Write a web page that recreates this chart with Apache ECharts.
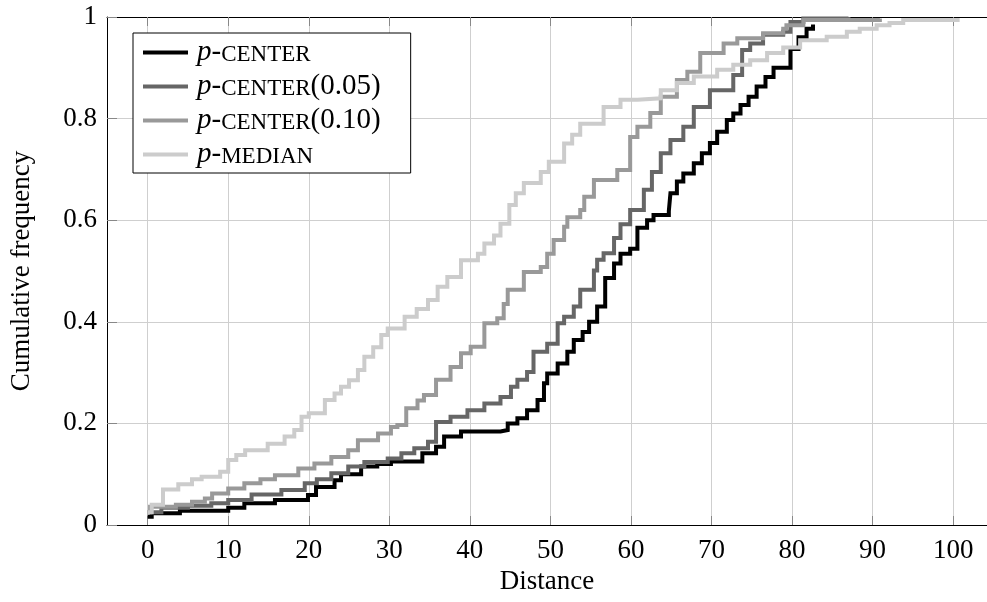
<!DOCTYPE html>
<html>
<head>
<meta charset="utf-8">
<script src="https://cdn.jsdelivr.net/npm/echarts@6/dist/echarts.min.js"></script>
<style>
  html, body { margin: 0; padding: 0; background: #fff; }
  #main { width: 987px; height: 602px; }
</style>
</head>
<body>
<div id="main"></div>
<script>
// each point is [distance, cumulative frequency after the jump]
var pCenter = [
  [0, 0.016], [0.5, 0.023], [4.0, 0.028], [10, 0.034], [12, 0.043], [15.8, 0.049],
  [19.9, 0.059], [20.9, 0.075], [23.2, 0.088], [24, 0.1], [26.5, 0.115], [28.5, 0.12],
  [30.2, 0.125], [34.1, 0.141], [35.8, 0.154], [36.8, 0.174], [38.9, 0.184], [43.8, 0.187],
  [44.7, 0.2], [45.9, 0.21], [47.1, 0.226], [48.4, 0.246], [49.2, 0.279], [49.6, 0.298],
  [50.9, 0.318], [52.1, 0.341], [52.9, 0.364], [54, 0.38], [54.8, 0.4], [55.8, 0.43],
  [56.8, 0.486], [57.9, 0.515], [58.7, 0.534], [59.9, 0.544], [60.8, 0.585], [62, 0.6],
  [62.8, 0.61], [64.7, 0.618], [64.9, 0.653], [65.7, 0.676], [66.5, 0.692], [67.8, 0.712],
  [68.8, 0.732], [69.8, 0.752], [70.7, 0.774], [71.9, 0.797], [72.7, 0.81], [73.6, 0.827],
  [74.6, 0.843], [75.6, 0.863], [76.7, 0.882], [77.7, 0.9], [79.8, 0.937], [80.8, 0.96],
  [81.8, 0.977], [82.6, 0.985]
];
var pCenter005 = [
  [0, 0.025], [1.7, 0.034], [5, 0.038], [7.9, 0.043], [10, 0.049], [12.9, 0.06],
  [16.6, 0.069], [19.5, 0.082], [21, 0.09], [22.8, 0.102], [24.9, 0.115], [26.9, 0.124],
  [29.8, 0.131], [31.5, 0.141], [33.1, 0.151], [34.8, 0.164], [35.8, 0.203], [37.6, 0.213],
  [39.7, 0.226], [41.8, 0.239], [43.8, 0.252], [45.1, 0.272], [45.9, 0.286], [47.1, 0.301],
  [47.9, 0.341], [49.6, 0.357], [50.9, 0.397], [51.7, 0.41], [52.9, 0.43], [53.7, 0.463],
  [55.4, 0.501], [55.8, 0.522], [56.6, 0.535], [57.9, 0.565], [58.7, 0.592], [59.9, 0.62],
  [61.6, 0.66], [62.6, 0.695], [63.7, 0.732], [64.9, 0.758], [66.5, 0.784], [67.8, 0.823],
  [69.8, 0.856], [72.7, 0.886], [73.8, 0.935], [74.8, 0.948], [76.4, 0.965], [78.9, 0.971],
  [79.8, 0.99], [81.4, 0.997], [87, 1]
];
var pCenter010 = [
  [0, 0.025], [0.3, 0.036], [3.5, 0.04], [5.5, 0.046], [7.1, 0.052], [8, 0.062],
  [10, 0.072], [12, 0.082], [14, 0.09], [15.8, 0.098], [18.7, 0.111], [20.7, 0.121],
  [22.8, 0.134], [24.9, 0.147], [26.1, 0.167], [28.6, 0.18], [30.2, 0.193], [31, 0.197],
  [32.1, 0.23], [33.5, 0.245], [34.3, 0.256], [35.8, 0.286], [37.6, 0.311], [38.9, 0.338],
  [40.1, 0.351], [41.8, 0.397], [43.4, 0.407], [44.2, 0.435], [44.7, 0.463], [46.7, 0.498],
  [48.8, 0.508], [49.6, 0.534], [50.4, 0.561], [51.7, 0.587], [52.1, 0.606], [53.7, 0.62],
  [54.2, 0.646], [55.4, 0.679], [58.3, 0.699], [59.9, 0.764], [60.8, 0.784], [62.4, 0.811],
  [63.7, 0.843], [65.7, 0.876], [67, 0.892], [68.6, 0.929], [71.5, 0.948], [73.2, 0.958],
  [76.4, 0.968], [78.9, 0.977], [79.3, 0.984], [81.4, 0.994], [90.9, 0.997]
];
var pMedian = [
  [0, 0.025], [0.5, 0.04], [1.9, 0.07], [3.8, 0.08], [5.5, 0.09], [6.7, 0.095],
  [9.0, 0.105], [10, 0.128], [11, 0.138], [12.1, 0.147], [14.9, 0.16], [17.0, 0.174],
  [18.2, 0.187], [19.1, 0.213], [20.0, 0.22], [22.0, 0.246], [23.2, 0.259], [24.0, 0.272],
  [25.0, 0.285], [26.1, 0.305], [26.9, 0.331], [28.0, 0.35], [29.0, 0.374], [29.8, 0.387],
  [31.9, 0.41], [33.4, 0.425], [34.8, 0.443], [36.0, 0.469], [37.2, 0.488], [38.9, 0.521],
  [41.0, 0.534], [41.8, 0.554], [43.0, 0.57], [43.8, 0.593], [44.9, 0.63], [45.7, 0.653],
  [46.7, 0.673], [48.8, 0.695], [49.8, 0.715], [51.7, 0.751], [52.7, 0.768], [53.7, 0.79],
  [56.6, 0.823], [58.7, 0.837], [60.8, 0.84], [63.7, 0.856], [65.7, 0.87], [67.8, 0.883],
  [70.7, 0.896], [72.7, 0.906], [74.8, 0.915], [76.9, 0.929], [78.9, 0.94], [81.0, 0.954],
  [84.3, 0.961], [86.8, 0.971], [88.4, 0.977], [90.5, 0.984], [92.1, 0.988], [93.8, 0.994],
  [100.8, 0.995]
];

var seriesNames = ['p-CENTER', 'p-CENTER(0.05)', 'p-CENTER(0.10)', 'p-MEDIAN'];
var seriesData = [pCenter, pCenter005, pCenter010, pMedian];
var seriesColors = ['#000000', '#666666', '#999999', '#cccccc'];
var xTicks = [0, 10, 20, 30, 40, 50, 60, 70, 80, 90, 100];

var FONT = '"Liberation Serif", "DejaVu Serif", serif';

var chart = echarts.init(document.getElementById('main'), null, { renderer: 'canvas' });

var option = {
  animation: false,
  backgroundColor: '#fff',
  grid: {
    left: 106, top: 17, bottom: 77, right: 0,
    show: false
  },
  legend: {
    orient: 'vertical',
    left: 133, top: 33,
    padding: [5, 30, 4, 10],
    itemGap: 5,
    itemWidth: 45, itemHeight: 4,
    icon: 'rect',
    backgroundColor: '#fff',
    borderColor: '#000', borderWidth: 1, borderRadius: 0,
    data: seriesNames,
    formatter: function (name) {
      var m = name.match(/^p-([A-Z]+)(.*)$/);
      var s = '{i|p}{n|-}{s|' + m[1] + '}';
      if (m[2]) s += '{n|' + m[2] + '}';
      return s;
    },
    textStyle: {
      fontFamily: FONT, color: '#000', fontSize: 29, padding: [0, 0, 0, 4],
      rich: {
        i: { fontFamily: FONT, fontStyle: 'italic', fontSize: 29, color: '#000', verticalAlign: 'bottom' },
        n: { fontFamily: FONT, fontSize: 29, color: '#000', verticalAlign: 'bottom' },
        s: { fontFamily: FONT, fontSize: 23, color: '#000', verticalAlign: 'bottom', padding: [0, 0, 1, 0] }
      }
    }
  },
  xAxis: [{
    type: 'value',
    min: -5.05, max: 104.2,
    name: 'Distance',
    nameLocation: 'middle',
    nameGap: 42,
    nameTextStyle: { fontFamily: FONT, fontSize: 27, color: '#000' },
    axisLine: { show: true, onZero: false, lineStyle: { color: '#000', width: 1 } },
    axisTick: { show: true, inside: true, length: 9, customValues: xTicks, lineStyle: { color: '#888' } },
    axisLabel: { customValues: xTicks, margin: 12, fontFamily: FONT, fontSize: 27, color: '#000' },
    splitLine: { show: true, lineStyle: { color: '#cfcfcf', width: 1 } }
  }, {
    type: 'value',
    position: 'top',
    min: -5.05, max: 104.2,
    axisLine: { show: true, onZero: false, lineStyle: { color: '#000', width: 1 } },
    axisTick: { show: true, inside: true, length: 9, customValues: xTicks, lineStyle: { color: '#888' } },
    axisLabel: { show: false },
    splitLine: { show: false }
  }],
  yAxis: {
    type: 'value',
    min: 0, max: 1, interval: 0.2,
    name: 'Cumulative frequency',
    nameLocation: 'middle',
    nameGap: 72,
    nameRotate: 90,
    nameTextStyle: { fontFamily: FONT, fontSize: 27, color: '#000' },
    axisLine: { show: true, onZero: false, lineStyle: { color: '#000', width: 1 } },
    axisTick: { show: true, inside: true, length: 10, lineStyle: { color: '#888' } },
    axisLabel: { margin: 10, fontFamily: FONT, fontSize: 27, color: '#000' },
    splitLine: { show: true, lineStyle: { color: '#cfcfcf', width: 1 } }
  },
  series: seriesNames.map(function (name, i) {
    return {
      name: name,
      type: 'line',
      step: 'end',
      data: seriesData[i],
      showSymbol: false,
      symbol: 'none',
      color: seriesColors[i],
      lineStyle: { color: seriesColors[i], width: 4, join: 'miter' },
      z: 2 + i
    };
  })
};

chart.setOption(option);
</script>
</body>
</html>
